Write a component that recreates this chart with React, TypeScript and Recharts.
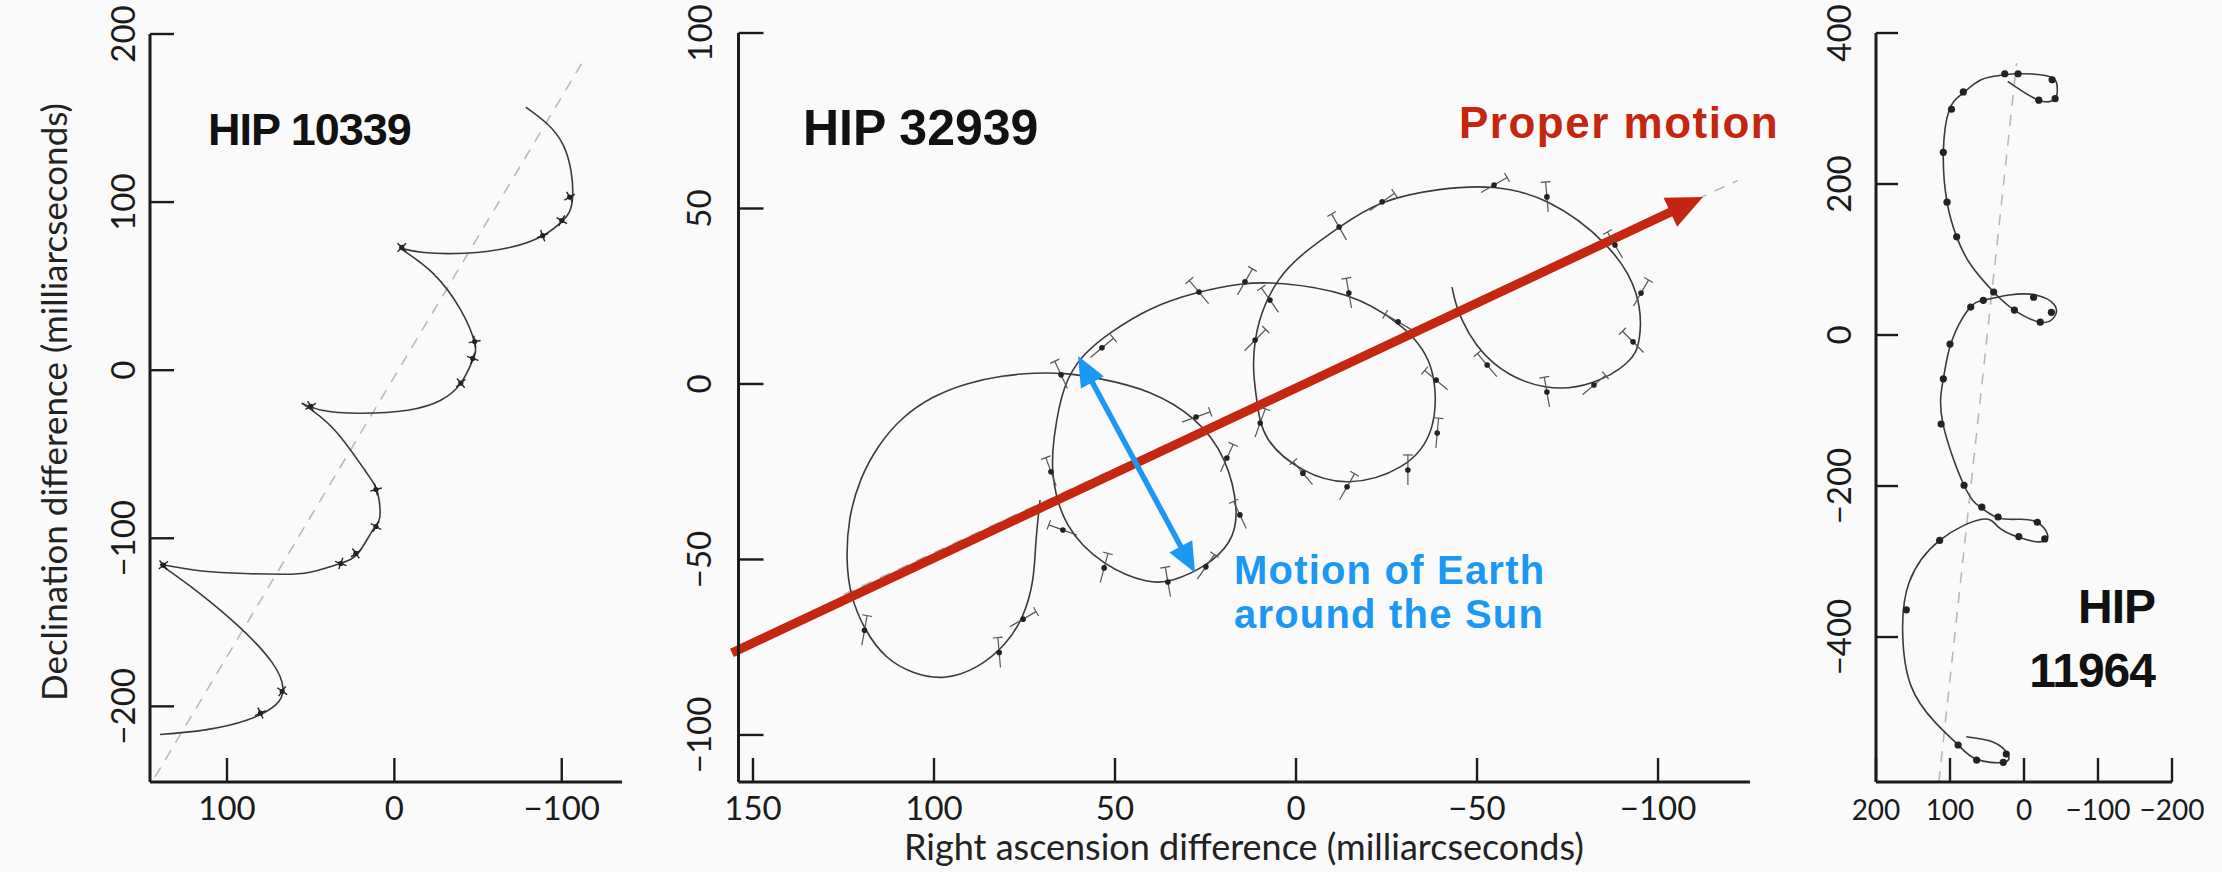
import React from 'react';
import { ComposedChart, XAxis, YAxis, Line, Scatter, ReferenceLine } from 'recharts';

// ---------- HIP 10339 (milliarcseconds) – path split at its turning points ----------
const hip10339ArcA: [number, number][] = [
  [-78.5, 156.5], [-100.6, 134.5], [-106.5, 103], [-100.6, 89], [-88.6, 80],
  [-68.9, 73], [-42, 69.6], [-17.6, 70], [-3.3, 72.6],
];
const hip10339ArcB: [number, number][] = [
  [-3.3, 72.6], [-23, 57.7], [-39.7, 35.7], [-48, 16], [-46.8, 6], [-39.7, -7.7],
  [-27.7, -17.9], [-8, -23.8], [21.2, -25.6], [43.3, -23.8], [55.3, -19.6],
];
const hip10339ArcC: [number, number][] = [
  [55.3, -19.6], [35.6, -35.7], [16.4, -61.3], [9.9, -73.2], [8.7, -87.5], [12.9, -95.2],
  [21.2, -108.3], [32, -114.9], [50.5, -120.2], [67.2, -121.4], [89.3, -121], [115, -119.5],
  [140, -115.5],
];
const hip10339ArcD: [number, number][] = [
  [140, -115.5], [117.3, -132], [91.7, -153.6], [73, -174], [66.6, -188.7], [70.8, -199],
  [87.5, -208], [113, -214], [140, -216.7],
];
const hip10339Obs: [number, number, number][] = [
  [-104.7, 103, 30], [-100, 89, 60], [-88.6, 80, 20], [-4.4, 73, 45], [-48, 17, 10],
  [-46.8, 7, 70], [-39.7, -7.7, 40], [50, -21.5, 30], [11, -71, 15], [11, -93, 60],
  [23, -109, 35], [32, -115, 70], [138, -116, 40], [67, -191, 55], [80, -204, 25],
];
const hip10339Motion: [number, number][] = [[143, -242], [-114, 186]];

// ---------- HIP 32939 ----------
const hip32939Track: [number, number][] = [
  [70.7, -33.1], [72, -45], [72.3, -56], [75.4, -67], [80.1, -74.3], [87.9, -81.1],
  [97.3, -84.4], [106, -82.5], [113.4, -78.3], [119.2, -70.2], [123.2, -60.2], [124.3, -50],
  [123.6, -38], [120.5, -27], [115.5, -17.5], [109, -9.5], [100.5, -3.5], [91, 0.3], [81, 2.4],
  [72.3, 3.2], [64.4, 3.2], [54.4, 1.7], [40.3, -1.7],
  [27.6, -9.4], [19.1, -20.8], [15.7, -36.8], [17.7, -45.3], [24.9, -52.1], [34.5, -56.4],
  [40.3, -57], [53, -52.1], [64.4, -40.7], [67.7, -25.4], [67.1, -16], [64.4, 0.3],
  [58.6, 8.8], [51.7, 14.5], [40.3, 21.9], [27.6, 26.2], [14.9, 28.8], [5, 29.1],
  [-14.6, 26.2], [-28.7, 17.7], [-38.7, 6.8], [-39, -14], [-30.1, -24.5], [-14.1, -29.3],
  [-1.9, -25.4], [9.4, -16], [10.8, -4.6], [12.2, 4.8], [10.8, 18.2], [5, 30.5],
  [-1.9, 37.3], [-11.9, 44.7], [-23.2, 52.4], [-39.8, 55.8], [-54.7, 56.7], [-69.3, 53.3],
  [-86.7, 40.2], [-95.3, 25.9], [-95.3, 11.7], [-92.5, 6], [-82.3, -0.3], [-69.3, -2.3],
  [-53.3, 4.8], [-44.8, 19.1], [-43.1, 27.6],
];
// observation: ra, dec, scan direction (deg)
const hip32939Obs: [number, number, number][] = [
  [64.9, 2.6, 115], [53.6, 10.3, 40], [26.8, 26.2, 130], [14.1, 29.1, 60], [-14.6, 25.9, 100],
  [-28.2, 17.7, 150], [7.2, 23.9, 125], [11.3, 12.5, 45], [-23.8, 51.9, 35], [-11.9, 44.7, 120],
  [-38.7, 1.1, 140], [9.9, -11.1, 70], [27.6, -9.4, 20], [67.7, -25, 110], [64.4, -41.6, 160],
  [53, -52.4, 75], [35.4, -56.4, 100], [24.9, -52.1, 55], [15.5, -37.3, 115], [19.1, -21.1, 65],
  [75.4, -67, 30], [82, -76.5, 95], [119.2, -70.2, 80], [-1.9, -25.4, 130], [-14.1, -29.3, 60],
  [-30.9, -24.5, 90], [-54.7, 56.7, 30], [-69.3, 53.3, 95], [-88.1, 39.6, 120], [-95.3, 25.9, 60],
  [-93.1, 12, 135], [-82.3, -0.3, 40], [-69.3, -2.3, 100], [-52.8, 5.4, 130], [-39, -14, 85],
];
const hip32939Motion: [number, number][] = [[125, -60], [-122, 58]];
const properMotionArrow: [number, number][] = [[155.8, -76.6], [-112.4, 53.3]];
const earthMotionArrow: [number, number][] = [[60.2, 8], [27.9, -53.8]];

// ---------- HIP 11964 ----------
const hip11964Track: [number, number][] = [
  [22, 336], [-20, 311], [-42, 313], [-45, 326], [-35, 342], [8, 346], [30, 344],
  [58, 338], [84, 319], [101, 298], [109, 242], [104, 176], [91, 130], [72, 93], [41, 57],
  [13, 33], [-22, 17], [-41, 24], [-41, 40], [-16, 53], [20, 53], [55, 46], [75, 34],
  [98, -9], [109, -58], [110, -115], [81, -199], [59, -228], [35, -242], [7, -244],
  [-18, -248], [-32, -265], [-22, -274], [7, -268], [35, -254], [57, -244], [114, -272],
  [155, -327], [164, -393], [153, -464], [120, -513], [89, -543], [64, -562], [28, -566],
  [22, -555], [42, -539], [78, -532],
];
const hip11964Obs: [number, number][] = [
  [82, 322], [98, 299], [109, 242], [104, 176], [91, 130], [26, 346], [8, 346],
  [-38, 338], [-42, 313], [-20, 311], [41, 57], [55, 46], [-13, 50], [13, 33], [-22, 17],
  [-37, 30], [72, 37], [100, -12], [109, -58], [112, -118], [81, -199], [57, -228], [35, -241],
  [7, -267], [-18, -248], [-28, -270], [114, -272], [159, -364], [89, -543], [64, -563],
  [28, -566], [24, -555],
];
const hip11964Motion: [number, number][] = [[115, -592], [10, 360]];

// ---------- axis ticks ----------
const leftXTicks = [100, 0, -100];
const leftYTicks = [200, 100, 0, -100, -200];
const midXTicks = [150, 100, 50, 0, -50, -100];
const midYTicks = [100, 50, 0, -50, -100];
const rightXTicks = [200, 100, 0, -100, -200];
const rightYTicks = [400, 200, 0, -200, -400];

const pts = (a: [number, number][]) => a.map(([x, y]) => ({ x, y }));
const obs = (a: [number, number, number][]) => a.map(([x, y, a2]) => ({ x, y, a: a2 }));
const seg = (a: [number, number][]) => a.map(([x, y]) => ({ x, y }));

const INK = '#1b1b1b';
const TRACK = '#3a3a3a';
const RED = '#C4260F';
const BLUE = '#1C97F2';
const TICK_FONT = 'Lato, "Open Sans", sans-serif';

const fmt = (v: number) => (v < 0 ? '\u2212' + Math.abs(v) : String(v));

const makeXTick = (fontSize: number) => (props: any) => {
  const { x, y, payload } = props;
  return (
    <g>
      <line x1={x} y1={y} x2={x} y2={y - 24} stroke={INK} strokeWidth={2.4} />
      <text x={x} y={y + 38} textAnchor="middle" fontSize={fontSize} fontFamily={TICK_FONT} fill={INK}>
        {fmt(payload.value)}
      </text>
    </g>
  );
};

const makeYTick = (gap: number, len: number) => (props: any) => {
  const { x, y, payload } = props;
  const tx = x - gap;
  return (
    <g>
      <line x1={x} y1={y} x2={x + len} y2={y} stroke={INK} strokeWidth={2.4} />
      <text x={tx} y={y} transform={`rotate(-90 ${tx} ${y})`} textAnchor="middle"
        fontSize={33} fontFamily={TICK_FONT} fill={INK}>
        {fmt(payload.value)}
      </text>
    </g>
  );
};

const CrossMark = (props: any) => {
  const { cx, cy, payload } = props;
  const a = (payload.a * Math.PI) / 180;
  const L = 6;
  const c = Math.cos(a) * L, s = Math.sin(a) * L;
  return (
    <g>
      <line x1={cx - c} y1={cy + s} x2={cx + c} y2={cy - s} stroke="#222" strokeWidth={1.4} />
      <line x1={cx - s} y1={cy - c} x2={cx + s} y2={cy + c} stroke="#222" strokeWidth={1.4} />
      <circle cx={cx} cy={cy} r={2.6} fill="#222" />
    </g>
  );
};

const ScanMark = (props: any) => {
  const { cx, cy, payload } = props;
  const a = (payload.a * Math.PI) / 180;
  const L = 15;
  const dx = Math.cos(a) * L, dy = -Math.sin(a) * L;
  const px = -dy / L * 5, py = dx / L * 5;
  const ex = cx + dx, ey = cy + dy;
  return (
    <g>
      <line x1={cx - dx} y1={cy - dy} x2={ex} y2={ey} stroke="#555" strokeWidth={1.2} />
      <line x1={ex - px} y1={ey - py} x2={ex + px} y2={ey + py} stroke="#555" strokeWidth={1.2} />
      <circle cx={cx} cy={cy} r={2.8} fill="#222" />
    </g>
  );
};

const DotMark = (props: any) => <circle cx={props.cx} cy={props.cy} r={3.6} fill="#222" />;

const makeArrow = (color: string, width: number, headLen: number, headHalf: number, both: boolean) =>
  (props: any) => {
    const { x1, y1, x2, y2 } = props;
    const dx = x2 - x1, dy = y2 - y1;
    const len = Math.hypot(dx, dy);
    const ux = dx / len, uy = dy / len;
    const px = -uy, py = ux;
    const head = (tx: number, ty: number, dirx: number, diry: number) => {
      const bx = tx - dirx * headLen, by = ty - diry * headLen;
      return `${tx},${ty} ${bx + px * headHalf},${by + py * headHalf} ${bx - px * headHalf},${by - py * headHalf}`;
    };
    const sx = both ? x1 + ux * headLen * 0.8 : x1;
    const sy = both ? y1 + uy * headLen * 0.8 : y1;
    const ex = x2 - ux * headLen * 0.8, ey = y2 - uy * headLen * 0.8;
    return (
      <g>
        <line x1={sx} y1={sy} x2={ex} y2={ey} stroke={color} strokeWidth={width} />
        <polygon points={head(x2, y2, ux, uy)} fill={color} />
        {both && <polygon points={head(x1, y1, -ux, -uy)} fill={color} />}
      </g>
    );
  };

const RedArrow = makeArrow(RED, 9, 36, 16, false);
const BlueArrow = makeArrow(BLUE, 5.5, 30, 13, true);

const axisLine = { stroke: INK, strokeWidth: 3 };

const trackLine = (data: { x: number; y: number }[], key: string, curve: 'natural' | 'basis' = 'natural') => (
  <Line key={key} data={data} dataKey="y" type={curve} stroke={TRACK} strokeWidth={1.6}
    dot={false} activeDot={false} isAnimationActive={false} />
);

const dashed = (line: [number, number][]) => (
  <ReferenceLine segment={seg(line)} stroke="#b9b9b9" strokeWidth={1.6}
    strokeDasharray="11 9" ifOverflow="visible" />
);

export default function App() {
  return (
    <div style={{ position: 'absolute', left: 0, top: 0, width: 2222, height: 872, background: '#FAFAFA', overflow: 'hidden' }}>
      {/* HIP 10339 */}
      <div style={{ position: 'absolute', left: 0, top: 0 }}>
        <ComposedChart width={642} height={872} margin={{ top: 34, right: 20, bottom: 0, left: 0 }}>
          <XAxis type="number" dataKey="x" domain={[-136, 146]} reversed allowDataOverflow
            ticks={leftXTicks} interval={0} tickSize={0} tickMargin={0} height={90}
            axisLine={axisLine} tickLine={false} tick={makeXTick(33)} />
          <YAxis type="number" dataKey="y" domain={[-245, 200]} allowDataOverflow
            ticks={leftYTicks} interval={0} tickSize={0} tickMargin={0} width={150}
            axisLine={axisLine} tickLine={false} tick={makeYTick(15, 24)} />
          {dashed(hip10339Motion)}
          {trackLine(pts(hip10339ArcA), 'a')}
          {trackLine(pts(hip10339ArcB), 'b')}
          {trackLine(pts(hip10339ArcC), 'c')}
          {trackLine(pts(hip10339ArcD), 'd')}
          <Scatter data={obs(hip10339Obs)} shape={CrossMark} isAnimationActive={false} />
        </ComposedChart>
      </div>

      {/* HIP 32939 */}
      <div style={{ position: 'absolute', left: 640, top: 0 }}>
        <ComposedChart width={1130} height={872} margin={{ top: 33, right: 20, bottom: 0, left: 0 }}>
          <XAxis type="number" dataKey="x" domain={[-125.4, 154]} reversed allowDataOverflow
            ticks={midXTicks} interval={0} tickSize={0} tickMargin={0} height={90}
            axisLine={axisLine} tickLine={false} tick={makeXTick(33)} />
          <YAxis type="number" dataKey="y" domain={[-113.4, 100]} allowDataOverflow
            ticks={midYTicks} interval={0} tickSize={0} tickMargin={0} width={98.5}
            axisLine={axisLine} tickLine={false} tick={makeYTick(27, 25)} />
          {dashed(hip32939Motion)}
          {trackLine(pts(hip32939Track), 'm', 'basis')}
          <Scatter data={obs(hip32939Obs)} shape={ScanMark} isAnimationActive={false} />
          <ReferenceLine segment={seg(properMotionArrow)} ifOverflow="visible" shape={RedArrow} />
          <ReferenceLine segment={seg(earthMotionArrow)} ifOverflow="visible" shape={BlueArrow} />
        </ComposedChart>
      </div>

      {/* HIP 11964 */}
      <div style={{ position: 'absolute', left: 1780, top: 0 }}>
        <ComposedChart width={442} height={872} margin={{ top: 33, right: 50, bottom: 0, left: 0 }}>
          <XAxis type="number" dataKey="x" domain={[-200, 200]} reversed allowDataOverflow
            ticks={rightXTicks} interval={0} tickSize={0} tickMargin={0} height={90}
            axisLine={axisLine} tickLine={false} tick={makeXTick(28)} />
          <YAxis type="number" dataKey="y" domain={[-592, 400]} allowDataOverflow
            ticks={rightYTicks} interval={0} tickSize={0} tickMargin={0} width={96}
            axisLine={axisLine} tickLine={false} tick={makeYTick(25, 22)} />
          {dashed(hip11964Motion)}
          {trackLine(pts(hip11964Track), 'r')}
          <Scatter data={pts(hip11964Obs)} shape={DotMark} isAnimationActive={false} />
        </ComposedChart>
      </div>

      {/* titles and annotations */}
      <svg width={2222} height={872} style={{ position: 'absolute', left: 0, top: 0, pointerEvents: 'none' }}>
        <g fontFamily='"Liberation Sans", Arial, sans-serif' fontWeight={700} fill="#111">
          <text x={208} y={145} fontSize={45} letterSpacing={-1}>HIP 10339</text>
          <text x={803} y={145} fontSize={50}>HIP 32939</text>
          <text x={2155} y={623} fontSize={48} textAnchor="end" letterSpacing={-1}>HIP</text>
          <text x={2155} y={687} fontSize={48} textAnchor="end" letterSpacing={-1}>11964</text>
        </g>
        <g fontFamily='"Liberation Sans", Arial, sans-serif' fontWeight={700}>
          <text x={1459} y={138} fontSize={44} letterSpacing={1.5} fill={RED}>Proper motion</text>
          <text x={1234} y={584} fontSize={40} letterSpacing={1.2} fill={BLUE}>Motion of Earth</text>
          <text x={1234} y={628} fontSize={40} letterSpacing={1.2} fill={BLUE}>around the Sun</text>
        </g>
        <g fontFamily={TICK_FONT} fill="#222">
          <text x={67} y={402} fontSize={35} transform="rotate(-90 67 402)" textAnchor="middle">
            Declination difference (milliarcseconds)
          </text>
          <text x={1244} y={860} fontSize={36} textAnchor="middle">Right ascension difference (milliarcseconds)</text>
        </g>
      </svg>
    </div>
  );
}
